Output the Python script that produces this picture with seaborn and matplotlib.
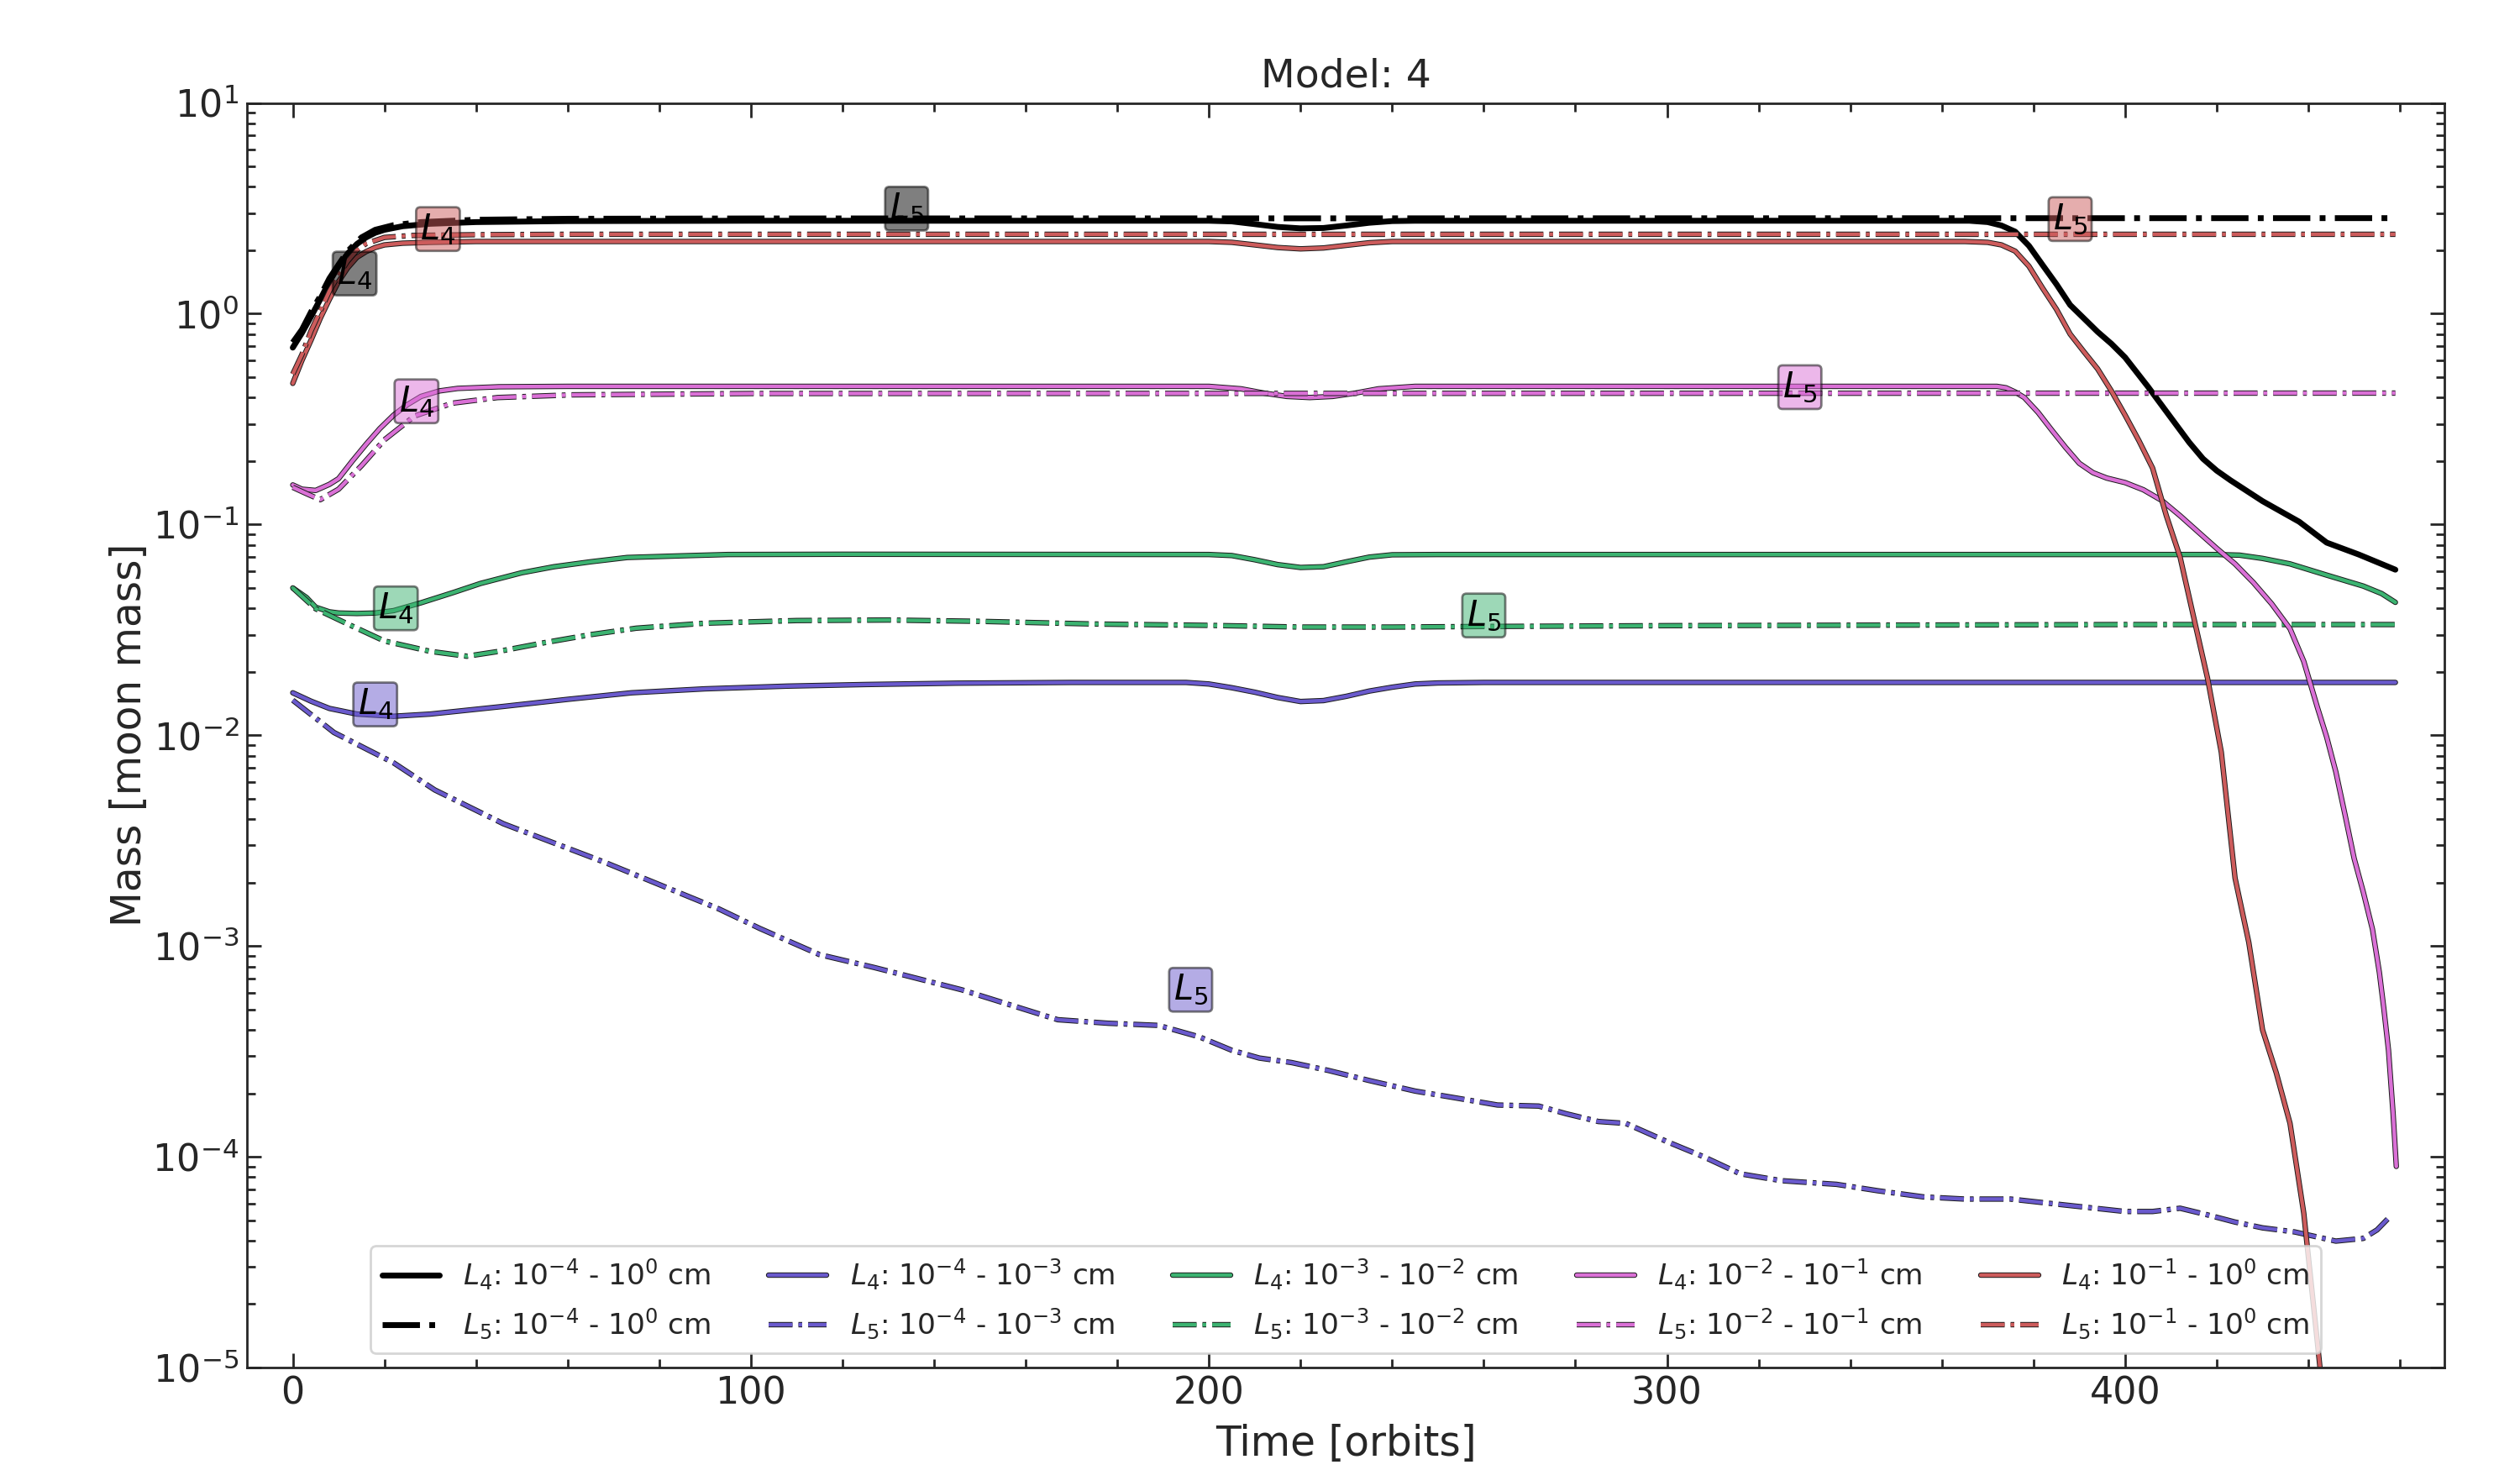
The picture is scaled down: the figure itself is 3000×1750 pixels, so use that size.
import numpy as np
import pandas as pd
import matplotlib
matplotlib.use("Agg")
import matplotlib.pyplot as plt
import matplotlib.patheffects as pe
from matplotlib.ticker import MultipleLocator, LogLocator, NullFormatter
import seaborn as sns

# ---------------- data ----------------
# total, all sizes 1e-4 - 1e0 cm
t_tot_L4 = [0, 2, 4, 6, 8, 10, 12, 14, 16, 18, 20, 24, 30, 40, 60, 100, 200, 205, 210, 215,
            220, 225, 230, 235, 240, 245, 300, 366, 370, 373, 376, 379, 382, 385, 388, 391,
            394, 397, 400, 405, 411, 414, 417, 420, 423, 430, 438, 444, 451, 459]
m_tot_L4 = [0.69, 0.81, 0.97, 1.17, 1.42, 1.68, 1.93, 2.14, 2.3, 2.42, 2.5, 2.6, 2.67, 2.72, 2.75,
            2.76, 2.76, 2.74, 2.66, 2.58, 2.54, 2.55, 2.62, 2.70, 2.75, 2.76, 2.76, 2.76, 2.72,
            2.62, 2.45, 2.1, 1.7, 1.38, 1.1, 0.95, 0.82, 0.72, 0.62, 0.45, 0.30, 0.245, 0.205,
            0.18, 0.162, 0.129, 0.103, 0.082, 0.072, 0.061]
t_tot_L5 = [0, 2, 4, 6, 8, 10, 12, 15, 18, 22, 28, 40, 60, 100, 459]
m_tot_L5 = [0.73, 0.84, 1.02, 1.21, 1.47, 1.71, 1.98, 2.3, 2.5, 2.63, 2.72, 2.79, 2.82, 2.83, 2.84]

# 1e-4 - 1e-3 cm
t_s1_L4 = [0, 4, 8, 14, 22, 30, 46, 60, 74, 90, 108, 125, 145, 170, 195, 200, 205, 210, 215, 220,
           225, 230, 235, 240, 245, 250, 260, 459]
m_s1_L4 = [0.0159, 0.0145, 0.0134, 0.0126, 0.0123, 0.0126, 0.0137, 0.0148, 0.0159, 0.0166, 0.0171,
           0.0174, 0.01766, 0.0178, 0.0178, 0.0175, 0.0168, 0.0160, 0.0151, 0.01445, 0.0146,
           0.0153, 0.0162, 0.0169, 0.0175, 0.0177, 0.0178, 0.0178]
t_s1_L5 = [0, 9, 22, 31, 46, 68, 93, 102, 115, 127, 146, 167, 178, 189, 198, 205, 211, 218, 226,
           235, 245, 254, 263, 272, 278, 285, 291, 300, 308, 316, 325, 337, 346, 356, 365, 375,
           387, 400, 406, 412, 418, 424, 430, 437, 446, 452, 455, 458]
m_s1_L5 = [0.01466, 0.0103, 0.0074, 0.0055, 0.0038, 0.0025, 0.0015, 0.00121, 0.00091, 0.00079,
           0.00062, 0.000447, 0.00043, 0.00042, 0.00037, 0.00032, 0.000294, 0.00028, 0.000257,
           0.00023, 0.000205, 0.00019, 0.000176, 0.000174, 0.00016, 0.000147, 0.000144,
           0.000118, 0.0001, 8.3e-5, 7.7e-5, 7.4e-5, 6.9e-5, 6.45e-5, 6.3e-5, 6.3e-5, 5.9e-5,
           5.5e-5, 5.5e-5, 5.7e-5, 5.3e-5, 4.9e-5, 4.6e-5, 4.4e-5, 3.98e-5, 4.1e-5, 4.5e-5, 5.25e-5]

# 1e-3 - 1e-2 cm
t_s2_L4 = [0, 3, 5, 8, 10, 14, 18, 22, 28, 35, 41, 50, 57, 65, 73, 85, 95, 120, 200, 205, 210,
           215, 220, 225, 230, 235, 240, 250, 420, 425, 430, 436, 444, 452, 456, 459]
m_s2_L4 = [0.050, 0.045, 0.0405, 0.0385, 0.038, 0.0378, 0.038, 0.039, 0.0425, 0.0475, 0.0525,
           0.059, 0.063, 0.0665, 0.0697, 0.071, 0.072, 0.0722, 0.072, 0.0712, 0.068, 0.0645,
           0.0625, 0.063, 0.0665, 0.070, 0.0718, 0.072, 0.072, 0.0715, 0.069, 0.065, 0.0575,
           0.051, 0.047, 0.0427]
t_s2_L5 = [0, 5, 12, 20, 30, 38, 45, 55, 65, 75, 90, 110, 130, 150, 175, 200, 220, 240, 260,
           300, 350, 400, 459]
m_s2_L5 = [0.050, 0.0398, 0.0337, 0.028, 0.025, 0.0237, 0.025, 0.0275, 0.030, 0.0322, 0.034,
           0.035, 0.0352, 0.0347, 0.0337, 0.0332, 0.0326, 0.0326, 0.0328, 0.0331, 0.0333,
           0.0335, 0.0335]

# 1e-2 - 1e-1 cm
t_s3_L4 = [0, 2, 5, 8, 10, 13, 16, 19, 22, 25, 28, 32, 36, 45, 60, 200, 207, 212, 217, 222, 227,
           232, 237, 245, 370, 372, 374, 376, 378, 381, 384, 387, 390, 393, 396, 400, 404, 408,
           412, 416, 420, 424, 428, 432, 436, 439, 442, 444, 446, 448, 450, 452, 454, 455.5,
           456.5, 457.5, 458.5, 459.2]
m_s3_L4 = [0.154, 0.147, 0.145, 0.155, 0.165, 0.2, 0.24, 0.285, 0.33, 0.37, 0.405, 0.43, 0.442,
           0.45, 0.452, 0.452, 0.44, 0.42, 0.405, 0.40, 0.405, 0.42, 0.44, 0.452, 0.452, 0.452,
           0.445, 0.425, 0.40, 0.34, 0.28, 0.232, 0.195, 0.176, 0.166, 0.158, 0.146, 0.13,
           0.11, 0.092, 0.077, 0.065, 0.053, 0.042, 0.032, 0.0224, 0.0135, 0.0098, 0.0067,
           0.0042, 0.0026, 0.0018, 0.0012, 7.5e-4, 5e-4, 3.2e-4, 1.6e-4, 9e-5]
t_s3_L5 = [0, 3, 6, 10, 15, 20, 26.6, 34.8, 44.7, 61, 100, 459]
m_s3_L5 = [0.15, 0.14, 0.131, 0.147, 0.19, 0.252, 0.327, 0.376, 0.40, 0.412, 0.418, 0.42]

# 1e-1 - 1e0 cm
t_s4_L4 = [0, 2, 4, 6, 8, 10, 12, 14, 16, 18, 20, 24, 30, 40, 60, 200, 205, 210, 215, 220, 225,
           230, 235, 240, 365, 370, 373, 376, 379, 382, 385, 388, 391, 394, 397, 400, 403, 406,
           409, 412, 415, 418, 421, 424, 427, 430, 433, 436, 439, 442, 445, 448]
m_s4_L4 = [0.467, 0.6, 0.75, 0.95, 1.17, 1.42, 1.65, 1.85, 1.97, 2.06, 2.12, 2.16, 2.18, 2.2, 2.2,
           2.2, 2.18, 2.12, 2.06, 2.03, 2.05, 2.11, 2.17, 2.2, 2.2, 2.18, 2.12, 1.98, 1.68, 1.32,
           1.05, 0.8, 0.66, 0.547, 0.43, 0.33, 0.25, 0.185, 0.11, 0.07, 0.036, 0.0186, 0.0083,
           0.0021, 0.00104, 0.0004, 0.00025, 0.000144, 5.4e-5, 1.3e-5, 3e-6, 8e-7]
t_s4_L5 = [0, 2, 4, 6, 8, 10, 12, 14, 16, 20, 26, 40, 60, 459]
m_s4_L5 = [0.517, 0.64, 0.83, 1.03, 1.28, 1.52, 1.78, 2.0, 2.15, 2.3, 2.35, 2.37, 2.38, 2.38]

size_labels = [r"$10^{-4}$ - $10^{0}$ cm", r"$10^{-4}$ - $10^{-3}$ cm", r"$10^{-3}$ - $10^{-2}$ cm",
               r"$10^{-2}$ - $10^{-1}$ cm", r"$10^{-1}$ - $10^{0}$ cm"]
colors = ["black", "slateblue", "mediumseagreen", "orchid", "indianred"]

series_L4 = [(t_tot_L4, m_tot_L4), (t_s1_L4, m_s1_L4), (t_s2_L4, m_s2_L4),
             (t_s3_L4, m_s3_L4), (t_s4_L4, m_s4_L4)]
series_L5 = [(t_tot_L5, m_tot_L5), (t_s1_L5, m_s1_L5), (t_s2_L5, m_s2_L5),
             (t_s3_L5, m_s3_L5), (t_s4_L5, m_s4_L5)]

# label boxes: (text, time, mass, color index)
box_text = [r"$L_4$", r"$L_5$", r"$L_4$", r"$L_5$", r"$L_4$", r"$L_5$", r"$L_4$", r"$L_5$",
            r"$L_4$", r"$L_5$"]
box_t = [13.5, 134, 18, 196, 22.5, 260, 27, 329, 31.7, 388]
box_m = [1.55, 3.15, 0.0140, 6.2e-4, 0.040, 0.037, 0.384, 0.448, 2.52, 2.81]
box_c = [0, 0, 1, 1, 2, 2, 3, 3, 4, 4]

# ---------------- plotting ----------------
sns.set_theme(style="ticks")
plt.rcParams["font.family"] = ["DejaVu Sans"]
plt.rcParams["mathtext.fontset"] = "dejavusans"
plt.rcParams["axes.linewidth"] = 1.0

fig, ax = plt.subplots(figsize=(15, 8.75), dpi=200)
fig.subplots_adjust(left=0.098, right=0.970, bottom=0.0697, top=0.930)

outline = [pe.Stroke(linewidth=2.3, foreground="k"), pe.Normal()]

handles = []
for i in range(5):
    for (t, m), loc, ls in [(series_L4[i], "L_4", "-"), (series_L5[i], "L_5", "-.")]:
        df = pd.DataFrame({"t": t, "m": m})
        kw = dict(color=colors[i], linestyle=ls, label=rf"${loc}$: " + size_labels[i])
        if i == 0:
            kw["linewidth"] = 2.5
        else:
            kw["linewidth"] = 1.6
            kw["path_effects"] = outline
        sns.lineplot(data=df, x="t", y="m", ax=ax, estimator=None, sort=False, **kw)
        handles.append(ax.lines[-1])

for txt, bt, bm, ci in zip(box_text, box_t, box_m, box_c):
    ax.text(bt, bm, txt, fontsize=15, ha="center", va="center", color="black",
            bbox=dict(boxstyle="round,pad=0.12", facecolor=colors[ci], edgecolor="black",
                      alpha=0.5, linewidth=1.0), zorder=5)

ax.set_yscale("log")
ax.set_ylim(1e-5, 1e1)
ax.set_xlim(-10, 469.7)
ax.xaxis.set_major_locator(MultipleLocator(100))
ax.xaxis.set_minor_locator(MultipleLocator(20))
ax.yaxis.set_major_locator(LogLocator(base=10, numticks=20))
ax.yaxis.set_minor_locator(LogLocator(base=10, subs=np.arange(2, 10), numticks=20))
ax.yaxis.set_minor_formatter(NullFormatter())
ax.tick_params(which="both", direction="in", top=True, right=True, labelsize=16, width=1.0)
ax.tick_params(which="major", length=6)
ax.tick_params(which="minor", length=3.5)

ax.set_xlabel("Time [orbits]", fontsize=17.5, labelpad=5)
ax.set_ylabel("Mass [moon mass]", fontsize=17.5, labelpad=1)
ax.set_title("Model: 4", fontsize=17, pad=7)

leg = ax.legend(handles=handles, labels=[h.get_label() for h in handles], ncol=5,
                loc="lower center", fontsize=12.4, frameon=True, framealpha=0.8,
                edgecolor="0.8", fancybox=True)

fig.savefig("out.png", dpi=200)
